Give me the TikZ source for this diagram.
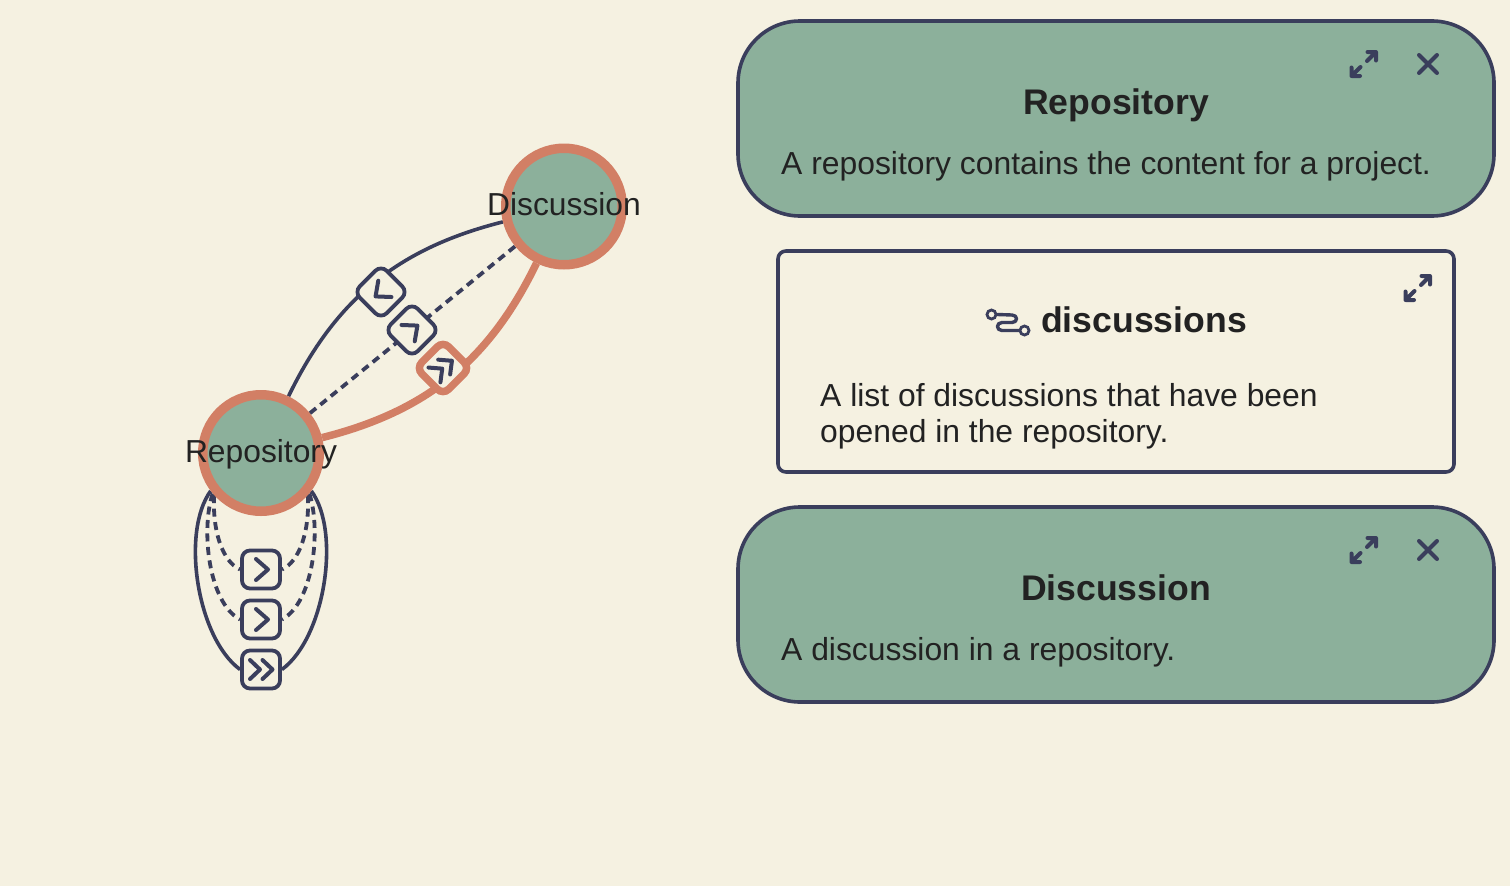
\documentclass[tikz,border=0pt]{standalone}
\usepackage{fontspec}
\setmainfont{Liberation Sans}
\usetikzlibrary{backgrounds}
\definecolor{paper}{HTML}{F5F1E1}
\definecolor{navy}{HTML}{3A3E5C}
\definecolor{sage}{HTML}{8CB09B}
\definecolor{coral}{HTML}{D27F65}
\definecolor{ink}{HTML}{222222}
\tikzstyle{ent}=[shape=circle,draw=coral,fill=sage,line width=9.5pt,inner sep=0pt,minimum size=116.5pt]
\tikzstyle{enttext}=[inner sep=0pt,text=ink,text height=18pt,text depth=0pt,font=\fontsize{31.8}{36}\selectfont]
\tikzstyle{tagbox}=[shape=rectangle,draw=navy,fill=paper,line width=3.8pt,rounded corners=8pt,inner sep=0pt,minimum size=38pt]
\tikzstyle{hotbox}=[tagbox,draw=coral,line width=7.5pt]
\tikzstyle{panel}=[shape=rectangle,draw=navy,line width=3.6pt,inner sep=0pt,minimum width=756pt,minimum height=195pt]
\tikzstyle{headtext}=[inner sep=0pt,anchor=base,text=ink,font=\fontsize{35.6}{36}\selectfont\bfseries]
\tikzstyle{bodytext}=[inner sep=0pt,text=ink,align=left,font=\fontsize{31.85}{36}\selectfont]
\tikzstyle{link}=[draw=navy,line width=3.6pt]
\tikzstyle{dashlink}=[link,line width=3.8pt,dash pattern=on 8pt off 5.5pt]
\tikzstyle{hotlink}=[draw=coral,line width=7.5pt]
\tikzstyle{icon}=[draw=navy,line width=4pt,line cap=round,line join=round]
\tikzstyle{icondot}=[shape=circle,draw=navy,line width=2.8pt,inner sep=0pt,minimum size=9pt]
\newcommand{\chev}[2]{\draw[icon,shift={(#1)},rotate=#2] (-5,-10.5) -- (7,0) -- (-5,10.5);}
\newcommand{\dchev}[2]{\draw[icon,shift={(#1)},rotate=#2] (-11,-9.5) -- (-1,0) -- (-11,9.5) (1.5,-9.5) -- (11.5,0) -- (1.5,9.5);}
\newcommand{\expandmark}[1]{\draw[icon,shift={(#1)}] (3.5,-12) -- (12,-12) -- (12,-3.5) (12,-12) -- (3,-3) (-12.5,3.5) -- (-12.5,12) -- (-4,12) (-12.5,12) -- (-3.5,3);}
\newcommand{\closemark}[1]{\draw[icon,shift={(#1)}] (-9,-9) -- (9,9) (-9,9) -- (9,-9);}

\begin{document}
\begin{tikzpicture}[x=1pt,y=-1pt]
\useasboundingbox (0,0) rectangle (1510,886);

\node[ent,label={[enttext]center:Repository}] (repo) at (261,453) {};
\node[ent,label={[enttext]center:Discussion}] (disc) at (564,206.5) {};

\node[tagbox,rotate=45] (taga) at (381,292) {};
\node[tagbox,rotate=45] (tagb) at (412,330) {};
\node[hotbox,rotate=45] (tagc) at (443,368) {};
\node[tagbox] (loopa) at (261,569.5) {};
\node[tagbox] (loopb) at (261,619.5) {};
\node[tagbox] (loopc) at (261,669.5) {};

\chev{taga}{219}
\chev{tagb}{39}
\dchev{tagc}{39}
\chev{loopa}{0}
\chev{loopb}{0}
\dchev{loopc}{0}

\begin{scope}[on background layer]
\fill[paper] (0,0) rectangle (1510,886);
\draw[link] (repo) to[bend left=25] (disc);
\draw[dashlink] (repo) -- (disc);
\draw[hotlink] (repo) to[bend right=25] (disc);
% loops under the circle
\draw[link] (repo.-143) .. controls +(-30,41) and +(-43,-31.5) .. (loopc.west);
\draw[link] (repo.-37) .. controls +(30,41) and +(43,-31.5) .. (loopc.east);
\draw[dashlink] (repo.-140) .. controls +(-12,35) and +(-32,-17) .. (loopb.west);
\draw[dashlink] (repo.-40) .. controls +(12,35) and +(32,-17) .. (loopb.east);
\draw[dashlink] (repo.-138) .. controls +(-2,35) and +(-18,-8) .. (loopa.west);
\draw[dashlink] (repo.-42) .. controls +(2,35) and +(18,-8) .. (loopa.east);
\end{scope}

\node[panel,fill=sage,rounded corners=62pt] (repopanel) at (1116,118.5) {};
\node[headtext] (repohead) at (1116,114) {Repository};
\node[bodytext,anchor=base west] (repotext) at (781,174) {A repository contains the content for a project.};
\expandmark{1364,64}
\closemark{1428,64}

\node[panel,minimum width=676pt,minimum height=221pt,rounded corners=8pt] (listpanel) at (1116,361.5) {};
\node[headtext] (listhead) at (1144,332) {discussions};
\node[bodytext,anchor=north west] (listtext) at (820,383) {A list of discussions that have been\\opened in the repository.};
\expandmark{1418,288}
\node[icondot] (icona) at (991.5,314.5) {};
\node[icondot] (iconb) at (1024.5,330.5) {};
\draw[icon,line width=3.4pt] (icona.east) -- (1012,315) .. controls (1018,315) and (1018,322.5) .. (1012,322.5) -- (1002,322.5) .. controls (996,322.5) and (996,330.5) .. (1002,330.5) -- (iconb.west);

\node[panel,fill=sage,rounded corners=62pt] (discpanel) at (1116,604.5) {};
\node[headtext] (dischead) at (1116,600) {Discussion};
\node[bodytext,anchor=base west] (disctext) at (781,660) {A discussion in a repository.};
\expandmark{1364,550}
\closemark{1428,550}
\end{tikzpicture}
\end{document}
